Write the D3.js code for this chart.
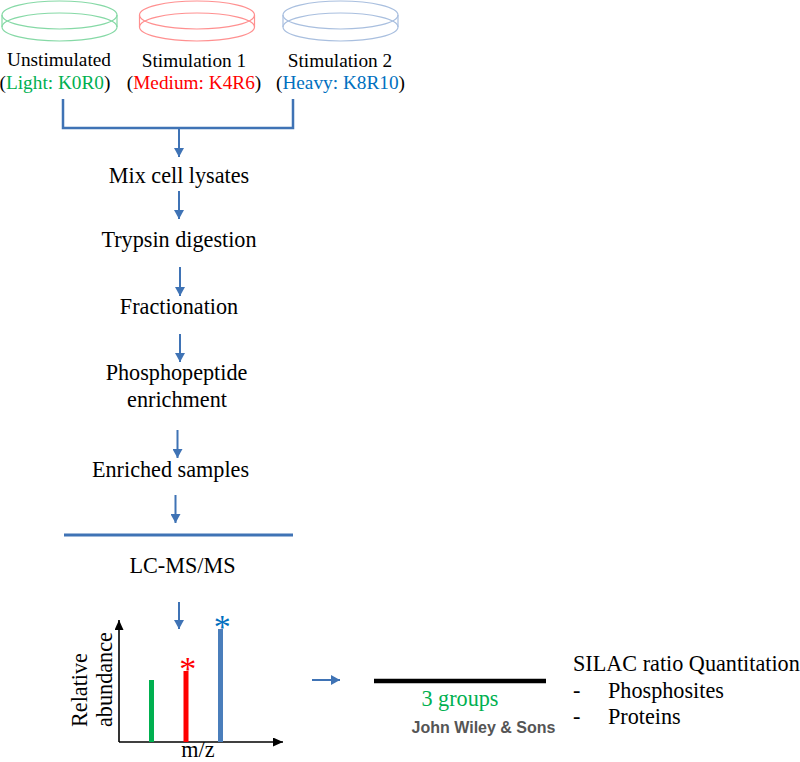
<!DOCTYPE html>
<html>
<head>
<meta charset="utf-8">
<script src="https://cdn.jsdelivr.net/npm/d3@7"></script>
<style>
  html, body { margin: 0; padding: 0; background: #fff; }
  svg { display: block; }
  text { font-family: "Liberation Serif", serif; fill: #000; }
</style>
</head>
<body>
<div id="chart"></div>
<script>
// Data
const groupNames = ["Unstimulated", "Stimulation 1", "Stimulation 2"];
const labelNames = ["Light: K0R0", "Medium: K4R6", "Heavy: K8R10"];
const stepNames = ["Mix cell lysates", "Trypsin digestion", "Fractionation", "Phosphopeptide", "enrichment", "Enriched samples", "LC-MS/MS"];
const peakMz = [32.5, 67, 101.5];
const peakAbundance = [62, 71, 113];
const peakStar = ["", "*", "*"];
const resultLines = ["Phosphosites", "Proteins"];

const width = 800, height = 762;
const green = "#00b050", red = "#ff0000", blue = "#0070c0", steel = "#3f73b5";
const groupColors = [green, red, blue];
const dishColors = ["#86d9a6", "#ff9090", "#a9bfdf"];
const barColors = ["#00b050", "#ff0000", "#4a7ebb"];
const textSize = 22.2;

const svg = d3.select("#chart")
  .append("svg")
  .attr("width", width)
  .attr("height", height);

const defs = svg.append("defs");
function addHead(id, color, w, h) {
  defs.append("marker")
    .attr("id", id)
    .attr("markerUnits", "userSpaceOnUse")
    .attr("markerWidth", w)
    .attr("markerHeight", h)
    .attr("refX", w)
    .attr("refY", h / 2)
    .attr("orient", "auto")
    .append("path")
    .attr("d", `M0,0L${w},${h / 2}L0,${h}Z`)
    .attr("fill", color);
}
addHead("head-blue", steel, 9, 10);
addHead("head-black", "#000", 10, 9);

function arrow(x1, y1, x2, y2) {
  svg.append("line")
    .attr("x1", x1).attr("y1", y1)
    .attr("x2", x2).attr("y2", y2)
    .attr("stroke", steel)
    .attr("stroke-width", 2)
    .attr("marker-end", "url(#head-blue)");
}

function label(txt, x, y, size, anchor) {
  return svg.append("text")
    .attr("x", x)
    .attr("y", y)
    .attr("font-size", size)
    .attr("text-anchor", anchor || "middle")
    .text(txt);
}

// Dishes
const dishX = [59.5, 197, 340.5];
const dishes = svg.append("g").attr("fill", "none").attr("stroke-width", 1.2);
dishX.forEach((cx, i) => {
  const g = dishes.append("g").attr("stroke", dishColors[i]);
  g.append("ellipse").attr("cx", cx).attr("cy", 15).attr("rx", 57.5).attr("ry", 14);
  g.append("ellipse").attr("cx", cx).attr("cy", 27).attr("rx", 57.5).attr("ry", 14);
  g.append("line").attr("x1", cx - 57.5).attr("x2", cx - 57.5).attr("y1", 15).attr("y2", 27);
  g.append("line").attr("x1", cx + 57.5).attr("x2", cx + 57.5).attr("y1", 15).attr("y2", 27);
});

// Group names and labels
const groupX = [59, 194, 340];
const groupY = [66, 67, 67];
const tagX = [55, 194, 340.5];
groupNames.forEach((name, i) => {
  label(name, groupX[i], groupY[i], 19.3);
  const t = label("", tagX[i], 89, 19.3);
  t.append("tspan").text("(");
  t.append("tspan").style("fill", groupColors[i]).text(labelNames[i]);
  t.append("tspan").text(")");
});

// Bracket joining the three lysates
svg.append("path")
  .attr("d", d3.line()([[63, 99], [63, 128], [293, 128], [293, 99]]))
  .attr("fill", "none")
  .attr("stroke", steel)
  .attr("stroke-width", 2.5);

// Workflow
const stepX = [179, 179, 179, 176.5, 177, 170.5, 182.5];
const stepY = [183, 247, 314, 380, 407, 477, 573];
stepNames.forEach((s, i) => label(s, stepX[i], stepY[i], textSize));

const arrowX = [179, 179, 180, 180, 177.5, 175.5, 179];
const arrowTop = [129, 191, 267, 334, 430, 495, 602];
const arrowEnd = [157, 219, 296, 362, 458, 523, 629];
arrowX.forEach((x, i) => arrow(x, arrowTop[i], x, arrowEnd[i]));

svg.append("line")
  .attr("x1", 64).attr("x2", 293)
  .attr("y1", 535).attr("y2", 535)
  .attr("stroke", steel)
  .attr("stroke-width", 3);

// Spectrum
const x = d3.scaleLinear().domain([0, 164]).range([119, 283]);
const y = d3.scaleLinear().domain([0, 122]).range([742, 620]);

const axisX = svg.append("g")
  .attr("transform", `translate(0,${y(0)})`)
  .call(d3.axisBottom(x).tickValues([]).tickSize(0));
const axisY = svg.append("g")
  .attr("transform", `translate(${x(0)},0)`)
  .call(d3.axisLeft(y).tickValues([]).tickSize(0));
[axisX, axisY].forEach(a => a.select(".domain")
  .attr("stroke", "#000")
  .attr("stroke-width", 1.6)
  .attr("marker-end", "url(#head-black)"));
// redraw the domains so the arrow heads land on the far end
axisY.select(".domain").attr("d", `M0,${y(0)}V${y(122)}`);
axisX.select(".domain").attr("d", `M${x(0)},0H${x(164)}`);

svg.selectAll(".peak")
  .data(peakMz)
  .join("rect")
  .attr("class", "peak")
  .attr("x", d => x(d) - 2.5)
  .attr("width", 5)
  .attr("y", (d, i) => y(peakAbundance[i]))
  .attr("height", (d, i) => y(0) - y(peakAbundance[i]))
  .attr("fill", (d, i) => barColors[i]);

svg.selectAll(".star")
  .data(peakMz)
  .join("text")
  .attr("class", "star")
  .attr("x", d => x(d) + 1.8)
  .attr("y", (d, i) => y(peakAbundance[i]) + 8.5)
  .attr("font-size", 34)
  .attr("text-anchor", "middle")
  .style("fill", (d, i) => groupColors[i])
  .text((d, i) => peakStar[i]);

label("m/z", 198, 757, textSize);

svg.append("text")
  .attr("transform", "translate(87,727) rotate(-90)")
  .attr("font-size", textSize)
  .text("Relative");
svg.append("text")
  .attr("transform", "translate(112,727) rotate(-90)")
  .attr("font-size", textSize)
  .text("abundance");

// Quantitation
arrow(312, 680, 340, 680);

svg.append("line")
  .attr("x1", 374).attr("x2", 546)
  .attr("y1", 681).attr("y2", 681)
  .attr("stroke", "#000")
  .attr("stroke-width", 4.5);

label("3 groups", 460, 706, textSize).style("fill", green);

label("John Wiley & Sons", 483.5, 733, 16)
  .style("font-family", "'Liberation Sans', Arial, sans-serif")
  .style("font-weight", "bold")
  .style("fill", "#555");

label("SILAC ratio Quantitation", 573, 671, textSize, "start");
resultLines.forEach((s, i) => {
  label("-", 573, 698 + i * 26, textSize, "start");
  label(s, 608, 698 + i * 26, textSize, "start");
});
</script>
</body>
</html>
